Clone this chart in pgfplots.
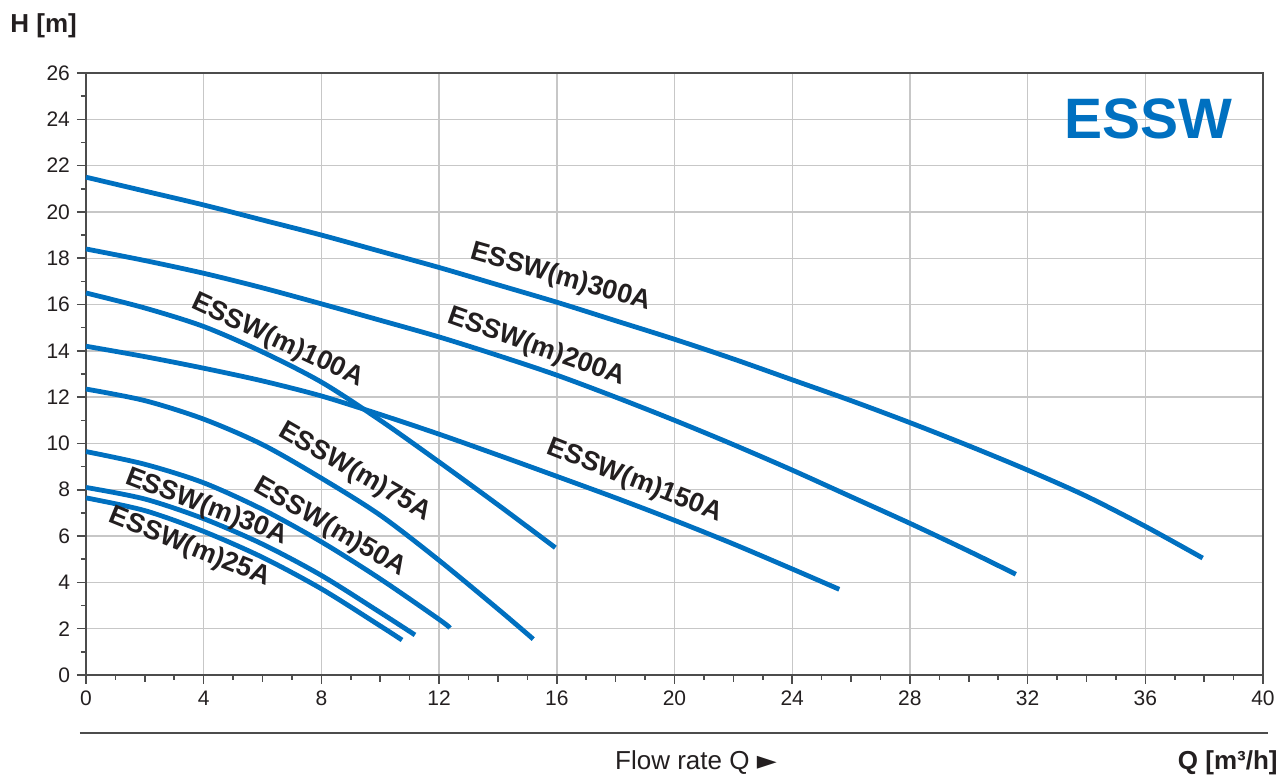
\documentclass[border=0pt]{standalone}
\usepackage{fontspec}
\setmainfont{Liberation Sans}
\newfontfamily\dejavu{DejaVu Sans}
\usepackage{pgfplots}
\pgfplotsset{compat=1.18}
\definecolor{pumpblue}{RGB}{0,112,192}
\definecolor{txt}{RGB}{35,31,32}
\begin{document}
\begin{tikzpicture}
\useasboundingbox (-43pt,-50pt) rectangle (597pt,337.5pt);
\begin{axis}[
  scale only axis, width=588.5pt, height=301pt,
  xmin=0, xmax=40, ymin=0, ymax=26,
  xtick={0,4,...,40}, ytick={0,2,...,26},
  minor x tick num=3, minor y tick num=1,
  tick align=outside, tick pos=left,
  major tick length=4.5pt, minor tick length=2.5pt,
  extra x ticks={2,6,...,38}, extra x tick labels={},
  extra x tick style={grid=none, major tick length=3.5pt},
  grid=major, major grid style={black!22, line width=0.7pt},
  axis line style={black!70, line width=1pt},
  tick style={black!70, line width=0.8pt},
  ticklabel style={font=\fontsize{10.5}{12}\selectfont, text=txt},
  /pgf/number format/assume math mode=true,
  clip=false,
  pump/.style={pumpblue, line width=2.4pt, smooth, mark=none, solid},
]
% ESSW(m)300A
\addplot[pump] coordinates {(0,21.5)(2,20.9)(4,20.3)(6,19.65)(8,19.0)(10,18.3)(12,17.6)(14,16.85)(16,16.1)(18,15.3)(20,14.5)(22,13.65)(24,12.75)(26,11.85)(28,10.9)(30,9.9)(32,8.85)(34,7.72)(36,6.42)(37.95,5.05)};
% ESSW(m)200A
\addplot[pump] coordinates {(0,18.4)(2,17.9)(4,17.35)(6,16.72)(8,16.03)(10,15.32)(12,14.6)(14,13.8)(16,12.95)(18,12.0)(20,11.0)(22,9.95)(24,8.85)(26,7.7)(28,6.55)(30,5.35)(31.6,4.35)};
% ESSW(m)150A
\addplot[pump] coordinates {(0,14.2)(2,13.75)(4,13.25)(6,12.7)(8,12.05)(10,11.25)(12,10.4)(14,9.5)(16,8.58)(18,7.65)(20,6.68)(22,5.66)(24,4.58)(25.6,3.7)};
% ESSW(m)100A
\addplot[pump] coordinates {(0,16.5)(2,15.85)(4,15.05)(6,13.95)(8,12.65)(10,11.0)(12,9.2)(14,7.35)(15.95,5.5)};
% ESSW(m)75A
\addplot[pump] coordinates {(0,12.35)(2,11.85)(4,11.05)(6,9.95)(8,8.5)(10,6.9)(12,4.95)(14,2.85)(15.2,1.55)};
% ESSW(m)50A
\addplot[pump] coordinates {(0,9.65)(2,9.1)(4,8.3)(6,7.15)(8,5.75)(10,4.15)(12,2.4)(12.37,2.03)};
% ESSW(m)30A
\addplot[pump] coordinates {(0,8.1)(2,7.6)(4,6.75)(6,5.65)(8,4.3)(10,2.7)(11.18,1.73)};
% ESSW(m)25A
\addplot[pump] coordinates {(0,7.65)(2,7.1)(4,6.2)(6,5.08)(8,3.72)(10,2.12)(10.74,1.51)};

\begin{scope}[every node/.style={font=\fontsize{13.5}{15}\selectfont\bfseries, text=txt, inner sep=0pt}]
\node[rotate=-16]   at (axis cs:16.14,17.15) {ESSW(m)300A};
\node[rotate=-19.5] at (axis cs:15.31,14.15) {ESSW(m)200A};
\node[rotate=-21.5] at (axis cs:18.65,8.38)  {ESSW(m)150A};
\node[rotate=-25]   at (axis cs:6.51,14.43)  {ESSW(m)100A};
\node[rotate=-30]   at (axis cs:9.14,8.75)   {ESSW(m)75A};
\node[rotate=-30]   at (axis cs:8.29,6.37)   {ESSW(m)50A};
\node[rotate=-21]   at (axis cs:4.09,7.25)   {ESSW(m)30A};
\node[rotate=-22]   at (axis cs:3.53,5.51)   {ESSW(m)25A};
\end{scope}
\end{axis}
\node[anchor=base, inner sep=0pt, text=pumpblue, font=\fontsize{28.5}{30}\selectfont\bfseries] at (531pt,268pt) {ESSW};
\node[anchor=base west, inner sep=0pt, text=txt, font=\fontsize{13}{15}\selectfont\bfseries] at (-38pt,321pt) {H [m]};
\draw[black!70, line width=1pt] (-3pt,-29pt) -- (591pt,-29pt);
\node[anchor=base, inner sep=0pt, text=txt, font=\fontsize{13}{15}\selectfont] at (305pt,-47.5pt) {Flow rate Q {\dejavu ►}};
\node[anchor=base east, inner sep=0pt, text=txt, font=\fontsize{13}{15}\selectfont\bfseries] at (596pt,-47.5pt) {Q [m³/h]};
\end{tikzpicture}
\end{document}
